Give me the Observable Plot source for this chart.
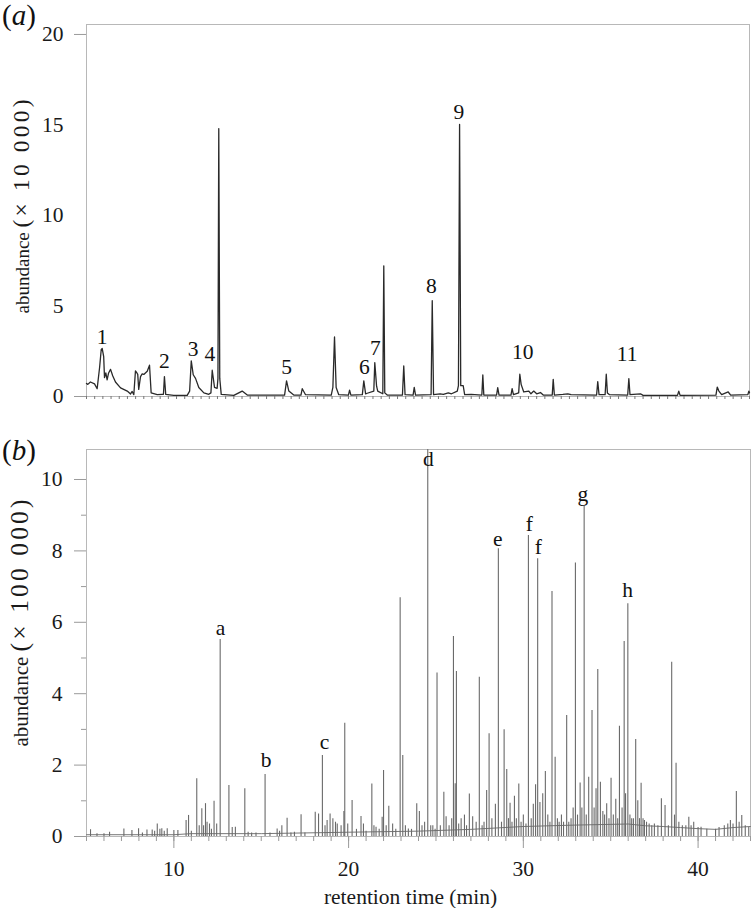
<!DOCTYPE html>
<html>
<head>
<meta charset="utf-8">
<script src="https://cdn.jsdelivr.net/npm/d3@7"></script>
<script src="https://cdn.jsdelivr.net/npm/@observablehq/plot@0.6"></script>
<style>
  body { margin: 0; background: #fff; }
  #fig { position: relative; width: 752px; height: 908px; font-family: "Liberation Serif", "Times New Roman", serif; }
  #fig svg { display: block; }
  .ptag { position: absolute; font-size: 29px; line-height: 1; color: #111; }
</style>
</head>
<body>
<div id="fig">
  <div id="panelA"></div>
  <div id="panelB"></div>
  <div class="ptag" style="left:2px;top:1px">(<i>a</i>)</div>
  <div class="ptag" style="left:2px;top:436px">(<i>b</i>)</div>
</div>
<script>
// ---------- Panel (a): chromatogram trace (retention time, abundance ×10 000) ----------
const traceA = [
  [3.00,0.72],[3.08,0.67],[3.24,0.80],[3.49,0.70],[3.65,0.43],[3.80,1.60],[3.90,2.60],[3.96,2.65],
  [4.05,2.20],[4.10,1.04],[4.18,1.30],[4.26,0.92],[4.35,1.30],[4.47,1.50],[4.60,1.15],[4.77,0.80],
  [5.08,0.48],[5.49,0.30],[5.69,0.14],[5.79,0.28],[5.89,0.10],[5.99,1.41],[6.08,1.30],[6.13,1.22],
  [6.19,0.39],[6.30,1.10],[6.40,1.25],[6.50,1.22],[6.71,1.40],[6.85,1.73],[6.95,0.20],[7.32,0.10],
  [7.62,0.12],[7.70,0.12],[7.76,1.10],[7.84,0.12],[8.33,0.06],[9.15,0.06],[9.30,0.30],[9.40,1.97],
  [9.52,1.20],[9.66,1.00],[9.86,0.50],[10.17,0.20],[10.47,0.12],[10.60,0.20],[10.68,1.45],[10.82,0.50],
  [10.98,0.45],[11.03,1.00],[11.08,14.80],[11.14,1.00],[11.23,0.12],[12.00,0.06],[12.51,0.30],[12.82,0.08],
  [15.10,0.08],[15.22,0.86],[15.36,0.30],[15.66,0.08],[16.10,0.08],[16.18,0.43],[16.38,0.10],[17.95,0.08],
  [18.05,0.50],[18.15,3.29],[18.25,0.50],[18.41,0.10],[19.00,0.08],[19.07,0.35],[19.15,0.08],[19.85,0.10],
  [19.94,0.86],[20.05,0.15],[20.15,0.18],[20.55,0.30],[20.61,1.87],[20.72,0.57],[20.79,0.30],[21.10,0.15],
  [21.16,7.22],[21.22,0.20],[21.37,0.08],[22.30,0.08],[22.38,1.69],[22.46,0.10],[22.95,0.08],[23.02,0.50],
  [23.10,0.08],[24.05,0.10],[24.12,5.29],[24.20,0.10],[24.60,0.15],[24.80,0.12],[25.10,0.20],[25.30,0.15],
  [25.65,0.30],[25.72,0.60],[25.79,15.03],[25.86,0.60],[26.01,0.60],[26.10,0.10],[26.50,0.12],[27.15,0.08],
  [27.21,1.19],[27.27,0.08],[28.05,0.08],[28.12,0.49],[28.20,0.08],[28.93,0.08],[29.00,0.43],[29.08,0.10],
  [29.40,0.20],[29.47,1.23],[29.55,0.67],[29.71,0.25],[30.02,0.30],[30.15,0.15],[30.32,0.30],[30.50,0.15],
  [30.73,0.22],[30.90,0.08],[31.45,0.08],[31.51,0.95],[31.58,0.08],[32.10,0.12],[32.40,0.15],[32.60,0.10],
  [34.16,0.08],[34.23,0.82],[34.31,0.10],[34.68,0.10],[34.75,1.23],[34.82,0.20],[34.95,0.10],[36.06,0.08],
  [36.13,0.99],[36.20,0.10],[36.84,0.15],[37.00,0.06],[39.10,0.06],[39.18,0.30],[39.26,0.06],[41.45,0.08],
  [41.53,0.52],[41.63,0.30],[41.80,0.10],[42.20,0.25],[42.35,0.08],[43.40,0.10],[43.46,0.30],[43.50,0.20]
];
const labelsA = ["1","2","3","4","5","6","7","8","9","10","11"];
const labelATime = [3.96, 7.76, 9.52, 10.53, 15.22, 19.98, 20.65, 24.06, 25.74, 29.65, 36.03];
const labelAY    = [3.29, 1.97, 2.63, 2.35, 1.63, 1.63, 2.70, 6.12, 15.71, 2.43, 2.34];
const yTicksA = [0, 5, 10, 15, 20];
const yTickMarksA = [0, 20];
const xTicksA = d3.range(3, 43.51, 0.5);

// ---------- Panel (b): peaks (retention time in min, abundance ×100 000) ----------
const peaksB = [
  [5.23,0.19],[5.60,0.08],[6.00,0.08],[6.32,0.12],[7.14,0.21],[7.60,0.17],[7.98,0.22],[8.20,0.10],
  [8.46,0.18],[8.76,0.18],[8.90,0.15],[9.05,0.35],[9.20,0.20],[9.31,0.22],[9.45,0.15],[9.62,0.22],
  [10.00,0.17],[10.23,0.17],[10.70,0.45],[10.84,0.59],[11.00,0.15],[11.31,1.62],[11.45,0.30],[11.60,0.78],
  [11.70,0.30],[11.81,0.92],[11.90,0.40],[12.04,0.35],[12.15,0.20],[12.30,0.99],[12.45,0.35],[12.65,5.52],
  [13.15,1.43],[13.34,0.25],[13.52,0.26],[14.06,1.34],[14.25,0.12],[14.45,0.10],[14.70,0.10],[15.22,1.74],
  [15.50,0.10],[15.91,0.21],[16.05,0.15],[16.18,0.30],[16.48,0.51],[16.70,0.10],[16.90,0.12],[17.28,0.61],
  [17.50,0.10],[18.09,0.68],[18.28,0.63],[18.50,2.27],[18.65,0.30],[18.77,0.45],[18.94,0.63],[19.10,0.50],
  [19.25,0.40],[19.35,0.35],[19.57,0.30],[19.73,0.70],[19.78,3.17],[19.95,0.35],[20.20,1.01],[20.45,0.20],
  [20.71,0.56],[20.85,0.35],[21.00,0.15],[21.33,1.47],[21.45,0.30],[21.57,0.26],[21.75,0.20],[21.92,0.54],
  [22.00,1.85],[22.15,0.30],[22.30,0.85],[22.52,0.35],[22.70,0.20],[22.95,6.69],[23.10,2.27],[23.25,0.30],
  [23.42,0.21],[23.60,0.20],[23.90,0.92],[24.05,0.70],[24.20,0.30],[24.35,0.40],[24.53,10.84],[24.70,0.30],
  [24.82,0.30],[24.95,0.20],[25.06,4.58],[25.25,0.30],[25.45,1.24],[25.58,0.55],[25.75,0.30],[25.90,0.50],
  [26.00,5.60],[26.10,1.48],[26.17,4.62],[26.30,0.35],[26.44,0.50],[26.63,0.60],[26.75,0.30],[26.91,1.19],
  [27.10,0.55],[27.30,0.40],[27.48,4.46],[27.64,0.30],[27.75,0.40],[27.90,1.29],[28.04,2.88],[28.20,0.50],
  [28.40,0.90],[28.57,8.06],[28.75,0.40],[28.90,2.99],[29.05,1.88],[29.15,0.50],[29.24,0.93],[29.35,0.40],
  [29.49,1.13],[29.60,0.50],[29.74,1.47],[29.87,0.40],[30.00,0.60],[30.15,0.35],[30.29,8.43],[30.45,0.50],
  [30.57,0.90],[30.70,1.45],[30.82,7.78],[30.95,0.95],[31.11,1.20],[31.26,1.82],[31.40,0.60],[31.52,0.40],
  [31.64,6.86],[31.82,2.22],[31.95,0.50],[32.05,0.40],[32.18,0.60],[32.30,0.40],[32.48,3.39],[32.60,0.40],
  [32.73,0.50],[32.85,0.80],[32.98,7.66],[33.10,0.60],[33.25,1.50],[33.35,0.80],[33.48,9.24],[33.60,0.60],
  [33.74,1.66],[33.93,3.53],[34.05,0.80],[34.16,1.34],[34.26,4.68],[34.41,1.52],[34.55,0.70],[34.65,0.60],
  [34.77,0.92],[34.90,0.50],[35.02,1.63],[35.15,0.60],[35.29,1.04],[35.40,0.50],[35.50,3.09],[35.65,0.80],
  [35.77,5.46],[35.85,1.20],[35.98,6.52],[36.10,0.60],[36.20,0.50],[36.30,0.50],[36.43,2.72],[36.55,1.00],
  [36.65,0.50],[36.74,1.49],[36.85,0.50],[36.93,0.45],[37.05,0.40],[37.20,0.35],[37.35,0.30],[37.50,0.35],
  [37.70,0.30],[37.90,1.06],[38.11,0.87],[38.30,0.30],[38.49,4.88],[38.65,0.60],[38.74,2.05],[38.90,0.40],
  [39.10,0.30],[39.30,0.30],[39.47,0.54],[39.60,0.30],[39.75,0.40],[40.00,0.25],[40.17,0.26],[40.50,0.20],
  [41.00,0.20],[41.20,0.25],[41.50,0.30],[41.70,0.35],[41.85,0.45],[42.00,0.35],[42.19,1.26],[42.35,0.40],
  [42.50,0.59],[42.70,0.30],[42.90,0.25]
];
const floorB = [
  [5,0.05],[10,0.05],[11,0.08],[15,0.08],[20,0.12],[24,0.15],[27,0.20],[30,0.28],[33,0.32],
  [36,0.35],[37,0.30],[38,0.28],[39,0.25],[40,0.22],[41,0.20],[42,0.25],[43,0.28]
];
const labelsB = ["a","b","c","d","e","f","f","g","h"];
const labelBTime = [12.67, 15.28, 18.62, 24.57, 28.54, 30.34, 30.86, 33.40, 35.97];
const labelBY    = [5.85, 2.15, 2.64, 10.58, 8.32, 8.76, 8.10, 9.60, 6.89];
const yTicksB = [0, 2, 4, 6, 8, 10];
const yMinorB = [1, 3, 5, 7, 9];
const xTicksB = [10, 20, 30, 40];
const xMinorB = d3.range(5, 44, 1);

const yTitleA = ["abundance ", "(× 10 000)"];
const yTitleB = ["abundance ", "(× 100 000)"];
const xTitleB = "retention time (min)";

const FONT = "'Liberation Serif','Times New Roman',serif";
const tickGray = "#9a9a9a";
const frameGray = "#b8b8b8";

const plotA = Plot.plot({
  width: 752, height: 400,
  marginTop: 24, marginBottom: 4, marginLeft: 86, marginRight: 3,
  style: { fontFamily: FONT, fontSize: "21px", background: "white", overflow: "visible", color: "#1a1a1a" },
  x: { domain: [3, 43.5] },
  y: { domain: [0, 20.55] },
  marks: [
    Plot.frame({ stroke: frameGray }),
    Plot.axisX({ ticks: xTicksA, tickSize: 3, tickFormat: () => "", stroke: "#777", label: null }),
    Plot.axisY({ ticks: yTickMarksA, tickSize: 12, tickFormat: () => "", stroke: tickGray, label: null }),
    Plot.axisY({ ticks: yTicksA, tickSize: 0, tickPadding: 23, fontSize: 21.5, fill: "#1a1a1a", label: null }),
    Plot.line(traceA, { x: d => d[0], y: d => d[1], stroke: "#2a2a2a", strokeWidth: 1.3 }),
    Plot.text(labelsA, { x: (d, i) => labelATime[i], y: (d, i) => labelAY[i], text: d => d, fontSize: 21.5, fill: "#111" }),
    Plot.text([yTitleA.join("")], { frameAnchor: "left", textAnchor: "middle", lineAnchor: "middle", rotate: -90, dx: -63.5, dy: -4, fontSize: 19, fill: "#1a1a1a" })
  ]
});

const plotB = Plot.plot({
  width: 752, height: 508,
  marginTop: 49, marginBottom: 72, marginLeft: 86, marginRight: 2,
  style: { fontFamily: FONT, fontSize: "21px", background: "white", overflow: "visible", color: "#1a1a1a" },
  x: { domain: [5, 43] },
  y: { domain: [0, 10.84] },
  marks: [
    Plot.frame({ stroke: frameGray }),
    Plot.axisX({ ticks: xMinorB, tickSize: 5, tickFormat: () => "", stroke: tickGray, label: null }),
    Plot.axisX({ ticks: xTicksB, tickSize: 12, tickPadding: 12, fontSize: 21.5, stroke: tickGray, fill: "#1a1a1a", label: null }),
    Plot.axisY({ ticks: yMinorB, tickSize: 5, tickFormat: () => "", stroke: tickGray, label: null }),
    Plot.axisY({ ticks: yTicksB, tickSize: 12, tickPadding: 12, fontSize: 21.5, stroke: tickGray, fill: "#1a1a1a", label: null }),
    Plot.line(floorB, { x: d => d[0], y: d => d[1], stroke: "#777", strokeWidth: 1 }),
    Plot.ruleX(peaksB, { x: d => d[0], y1: 0, y2: d => d[1], stroke: "#6a6a6a", strokeWidth: 1.1 }),
    Plot.text(labelsB, { x: (d, i) => labelBTime[i], y: (d, i) => labelBY[i], text: d => d, fontSize: 21.5, fill: "#111" }),
    Plot.text([xTitleB], { frameAnchor: "bottom", textAnchor: "middle", lineAnchor: "middle", dx: -8, dy: 61, fontSize: 21.5, fill: "#1a1a1a" }),
    Plot.text([yTitleB.join("")], { frameAnchor: "left", textAnchor: "middle", lineAnchor: "middle", rotate: -90, dx: -65, dy: -20, fontSize: 21, fill: "#1a1a1a" })
  ]
});

// split the rotated y titles into two runs so the "(× …)" part spans its measured length
function stretchTitle(svg, parts, headSize, tailSize, tailLen) {
  const full = parts.join("");
  const t = Array.from(svg.querySelectorAll("text")).find(e => e.textContent === full);
  if (!t) return;
  const ns = "http://www.w3.org/2000/svg";
  t.textContent = "";
  const a = document.createElementNS(ns, "tspan");
  a.textContent = parts[0]; a.setAttribute("font-size", headSize);
  const b = document.createElementNS(ns, "tspan");
  b.textContent = parts[1]; b.setAttribute("font-size", tailSize);
  b.setAttribute("textLength", tailLen); b.setAttribute("lengthAdjust", "spacing");
  t.append(a, b);
}
stretchTitle(plotA, yTitleA, 19, 23.5, 128);
stretchTitle(plotB, yTitleB, 21, 25.5, 152);

document.getElementById("panelA").appendChild(plotA);
document.getElementById("panelB").appendChild(plotB);
</script>
</body>
</html>
